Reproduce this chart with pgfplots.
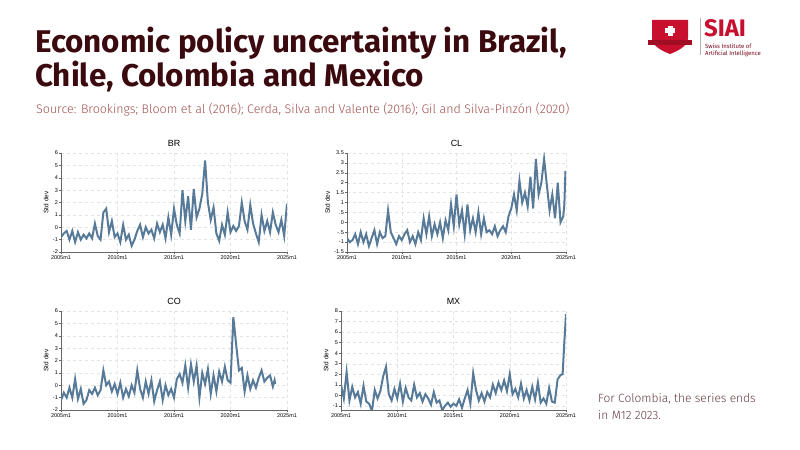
\documentclass[border=0pt]{standalone}
\usepackage{pgfplots}
\pgfplotsset{compat=1.18}
\usepackage{fontspec}
\setmainfont{Liberation Sans}
\newfontfamily\fira{Fira Sans}
\newfontfamily\firalight{Fira Sans Light}
\definecolor{ttl}{HTML}{3B0A0F}
\definecolor{sub}{HTML}{A0524F}
\definecolor{ln}{HTML}{587A99}
\definecolor{siai}{HTML}{C8102E}
\pgfplotsset{panel/.style={scale only axis, width=226bp, height=99bp, anchor=south west,
  axis lines*=left, axis line style={gray!80!black, line width=0.4pt},
  tick style={gray!80!black, line width=0.4pt}, tick align=outside, major tick length=2bp,
  xmin=2005, xmax=2025, xtick={2005,2010,2015,2020,2025},
  xticklabels={2005m1,2010m1,2015m1,2020m1,2025m1},
  grid=major, major grid style={gray!22, dashed, line width=0.3pt},
  ticklabel style={font=\fontsize{5.5}{6}\selectfont, inner sep=1pt},
  /pgf/number format/assume math mode=true,
  ylabel={Std\ dev}, ylabel style={font=\fontsize{6.5}{7}\selectfont},
  title style={font=\fontsize{9}{10}\selectfont, yshift=-3bp},
  clip=true}}
\begin{document}
\begin{tikzpicture}
\fill[white] (0bp,0bp) rectangle (800bp,450bp);
\node[anchor=base west, inner sep=0, text=ttl, font=\fira\bfseries\fontsize{31.5}{36}\selectfont] at (35bp,397bp) {Economic policy uncertainty in Brazil,};
\node[anchor=base west, inner sep=0, text=ttl, font=\fira\bfseries\fontsize{31.5}{36}\selectfont] at (35bp,363bp) {Chile, Colombia and Mexico};
\node[anchor=base west, inner sep=0, text=sub, font=\firalight\fontsize{12.5}{14}\selectfont] at (36bp,336bp) {Source: Brookings; Bloom et al (2016); Cerda, Silva and Valente (2016); Gil and Silva-Pinzón (2020)};
\node[anchor=base west, inner sep=0, text=ttl!80, font=\firalight\fontsize{12}{14}\selectfont] at (598bp,47bp) {For Colombia, the series ends};
\node[anchor=base west, inner sep=0, text=ttl!80, font=\firalight\fontsize{12}{14}\selectfont] at (598bp,31bp) {in M12 2023.};
% logo
\fill[siai] (652bp,430bp) -- (688bp,430bp) -- (688bp,412bp) .. controls (688bp,404bp) and (678bp,399bp) .. (670bp,396bp) .. controls (662bp,399bp) and (652bp,404bp) .. (652bp,412bp) -- cycle;
\fill[white] (667.5bp,424bp) rectangle (672.5bp,414bp); \fill[white] (665bp,421.5bp) rectangle (675bp,416.5bp);
\fill[siai!80!black] (648bp,410bp) rectangle (692bp,405bp);
\draw[gray!60] (700bp,432bp) -- (700bp,395bp);
\node[anchor=base west, inner sep=0, text=siai, font=\fira\bfseries\fontsize{24}{26}\selectfont] at (704bp,413bp) {SIAI};
\node[anchor=base west, inner sep=0, text=siai!60!black, font=\fira\fontsize{6}{7}\selectfont] at (705bp,401bp) {Swiss Institute of};
\node[anchor=base west, inner sep=0, text=siai!60!black, font=\fira\fontsize{6}{7}\selectfont] at (705bp,394bp) {Artificial Intelligence};
% BR
\begin{axis}[panel, at={(61bp,198bp)}, title={BR}, ymin=-2, ymax=6, ytick={-2,...,6}]
\addplot[ln, line width=2bp] coordinates {
(2005.0,-0.8)(2005.25,-0.5)(2005.5,-0.3)(2005.75,-1.0)(2006.0,-0.3)(2006.25,-1.2)(2006.5,-0.4)(2006.75,-1.0)
(2007.0,-0.6)(2007.25,-0.9)(2007.5,-0.5)(2007.75,-0.9)(2008.0,0.3)(2008.25,-0.7)(2008.5,-1.0)(2008.75,1.2)
(2009.0,1.5)(2009.25,-0.4)(2009.5,0.5)(2009.75,-0.8)(2010.0,-0.5)(2010.25,-1.2)(2010.5,0.2)(2010.75,-1.0)
(2011.0,-0.6)(2011.25,-1.5)(2011.5,-1.0)(2011.75,-0.3)(2012.0,0.2)(2012.25,-0.8)(2012.5,0.0)(2012.75,-0.5)
(2013.0,-0.2)(2013.25,-0.9)(2013.5,0.3)(2013.75,-0.4)(2014.0,0.2)(2014.25,-0.9)(2014.5,0.8)(2014.75,-0.6)
(2015.0,1.5)(2015.25,0.2)(2015.5,-0.5)(2015.75,3.0)(2016.0,0.5)(2016.25,2.5)(2016.5,-0.2)(2016.75,3.1)
(2017.0,0.8)(2017.25,1.5)(2017.5,2.7)(2017.75,5.4)(2018.0,2.0)(2018.25,0.6)(2018.5,1.6)(2018.75,-0.5)
(2019.0,-1.1)(2019.25,0.2)(2019.5,-0.6)(2019.75,1.2)(2020.0,-0.4)(2020.25,0.1)(2020.5,-0.3)(2020.75,0.1)
(2021.0,2.0)(2021.25,0.5)(2021.5,-0.2)(2021.75,1.8)(2022.0,0.3)(2022.25,-0.5)(2022.5,-1.2)(2022.75,1.0)
(2023.0,-0.3)(2023.25,0.5)(2023.5,-0.4)(2023.75,1.2)(2024.0,0.2)(2024.25,-0.4)(2024.5,0.6)(2024.75,-0.7)(2025.0,1.9)};
\end{axis}
% CL
\begin{axis}[panel, at={(347bp,198bp)}, width=219bp, title={CL}, ymin=-1.5, ymax=3.5, ytick={-1.5,-1,...,3.5},
  yticklabels={-1.5,-1,-.5,0,.5,1,1.5,2,2.5,3,3.5}]
\addplot[ln, line width=2bp] coordinates {
(2005.0,-0.8)(2005.25,-1.0)(2005.5,-0.9)(2005.75,-0.6)(2006.0,-1.1)(2006.25,-0.5)(2006.5,-1.0)(2006.75,-0.6)
(2007.0,-1.2)(2007.25,-0.8)(2007.5,-0.4)(2007.75,-1.1)(2008.0,-0.5)(2008.25,-0.8)(2008.5,-0.7)(2008.75,0.6)
(2009.0,-0.5)(2009.25,-0.8)(2009.5,-1.1)(2009.75,-0.7)(2010.0,-0.9)(2010.25,-0.6)(2010.5,-0.4)(2010.75,-1.0)
(2011.0,-0.7)(2011.25,-1.1)(2011.5,-0.5)(2011.75,-0.9)(2012.0,0.2)(2012.25,-0.6)(2012.5,0.3)(2012.75,-0.7)
(2013.0,-0.1)(2013.25,-0.6)(2013.5,0.0)(2013.75,-0.8)(2014.0,0.1)(2014.25,-0.4)(2014.5,0.9)(2014.75,-0.2)
(2015.0,1.4)(2015.25,-0.1)(2015.5,0.6)(2015.75,-0.6)(2016.0,0.9)(2016.25,-0.4)(2016.5,0.2)(2016.75,-0.5)
(2017.0,0.5)(2017.25,-0.6)(2017.5,0.2)(2017.75,-0.5)(2018.0,-0.4)(2018.25,-0.6)(2018.5,-0.2)(2018.75,-0.7)
(2019.0,-0.4)(2019.25,-0.2)(2019.5,-0.5)(2019.75,0.3)(2020.0,0.7)(2020.25,1.4)(2020.5,0.6)(2020.75,2.1)
(2021.0,1.0)(2021.25,1.5)(2021.5,0.8)(2021.75,2.3)(2022.0,0.7)(2022.25,3.2)(2022.5,1.4)(2022.75,2.0)
(2023.0,3.2)(2023.25,1.9)(2023.5,0.6)(2023.75,1.4)(2024.0,0.2)(2024.25,2.0)(2024.5,0.0)(2024.75,0.3)(2024.85,0.9)(2024.95,2.6)(2025.0,2.2)};
\end{axis}
% CO
\begin{axis}[panel, at={(61bp,40bp)}, title={CO}, ymin=-2, ymax=6, ytick={-2,...,6}]
\addplot[ln, line width=2bp] coordinates {
(2005.0,-1.2)(2005.25,-0.6)(2005.5,-1.0)(2005.75,-0.2)(2006.0,-1.0)(2006.25,0.5)(2006.5,-1.1)(2006.75,-0.3)
(2007.0,-1.5)(2007.25,-1.2)(2007.5,-0.4)(2007.75,-0.7)(2008.0,-0.2)(2008.25,-0.8)(2008.5,-0.4)(2008.75,1.2)
(2009.0,0.0)(2009.25,0.3)(2009.5,-0.5)(2009.75,0.1)(2010.0,-0.7)(2010.25,0.2)(2010.5,-1.0)(2010.75,-0.3)
(2011.0,-0.9)(2011.25,0.0)(2011.5,-0.6)(2011.75,1.2)(2012.0,-0.3)(2012.25,-1.0)(2012.5,0.3)(2012.75,-0.7)
(2013.0,0.4)(2013.25,-1.3)(2013.5,-0.4)(2013.75,0.3)(2014.0,-1.2)(2014.25,0.0)(2014.5,-0.8)(2014.75,-0.3)
(2015.0,-1.0)(2015.25,0.5)(2015.5,0.9)(2015.75,0.2)(2016.0,1.6)(2016.25,-0.2)(2016.5,1.7)(2016.75,0.3)
(2017.0,1.6)(2017.25,-1.0)(2017.5,1.0)(2017.75,0.1)(2018.0,1.3)(2018.25,-0.7)(2018.5,0.8)(2018.75,-0.5)
(2019.0,1.1)(2019.25,0.3)(2019.5,1.5)(2019.75,0.4)(2020.0,0.2)(2020.25,5.5)(2020.5,3.3)(2020.75,1.2)
(2021.0,1.4)(2021.25,-0.5)(2021.5,0.8)(2021.75,-0.3)(2022.0,0.4)(2022.25,-0.2)(2022.5,0.6)(2022.75,1.2)
(2023.0,0.3)(2023.25,0.6)(2023.5,0.8)(2023.75,-0.1)(2023.9,0.4)(2023.95,0.1)};
\end{axis}
% MX
\begin{axis}[panel, at={(341bp,40bp)}, width=225bp, title={MX}, ymin=-1.4, ymax=8, ytick={-1,...,8}]
\addplot[ln, line width=2bp] coordinates {
(2005.0,1.0)(2005.25,-0.3)(2005.5,2.2)(2005.75,-0.5)(2006.0,0.8)(2006.25,-0.2)(2006.5,0.3)(2006.75,-0.8)
(2007.0,0.9)(2007.25,-0.6)(2007.5,-0.8)(2007.75,-1.5)(2008.0,0.5)(2008.25,-0.3)(2008.5,0.4)(2008.75,1.8)
(2009.0,2.7)(2009.25,0.1)(2009.5,-0.5)(2009.75,0.6)(2010.0,-0.3)(2010.25,1.1)(2010.5,-0.6)(2010.75,0.7)
(2011.0,-0.2)(2011.25,-0.5)(2011.5,1.0)(2011.75,-0.2)(2012.0,0.2)(2012.25,-0.6)(2012.5,0.1)(2012.75,-0.3)
(2013.0,-0.9)(2013.25,0.3)(2013.5,-0.7)(2013.75,-0.5)(2014.0,-1.4)(2014.25,-1.0)(2014.5,-0.7)(2014.75,-1.1)
(2015.0,-0.8)(2015.25,-1.0)(2015.5,-0.4)(2015.75,-1.2)(2016.0,-0.3)(2016.25,0.5)(2016.5,-0.8)(2016.75,2.1)
(2017.0,0.5)(2017.25,-0.5)(2017.5,0.2)(2017.75,-0.6)(2018.0,0.3)(2018.25,-0.2)(2018.5,1.0)(2018.75,0.2)
(2019.0,1.2)(2019.25,0.5)(2019.5,1.4)(2019.75,0.4)(2020.0,2.0)(2020.25,0.1)(2020.5,0.6)(2020.75,-0.2)
(2021.0,1.1)(2021.25,-0.3)(2021.5,0.5)(2021.75,-0.5)(2022.0,0.8)(2022.25,-0.4)(2022.5,1.2)(2022.75,-0.7)
(2023.0,-0.3)(2023.25,-0.8)(2023.5,0.7)(2023.75,-0.6)(2024.0,-0.7)(2024.25,1.5)(2024.5,1.9)(2024.7,2.0)(2024.85,5.0)(2025.0,7.7)};
\end{axis}
\end{tikzpicture}
\end{document}
